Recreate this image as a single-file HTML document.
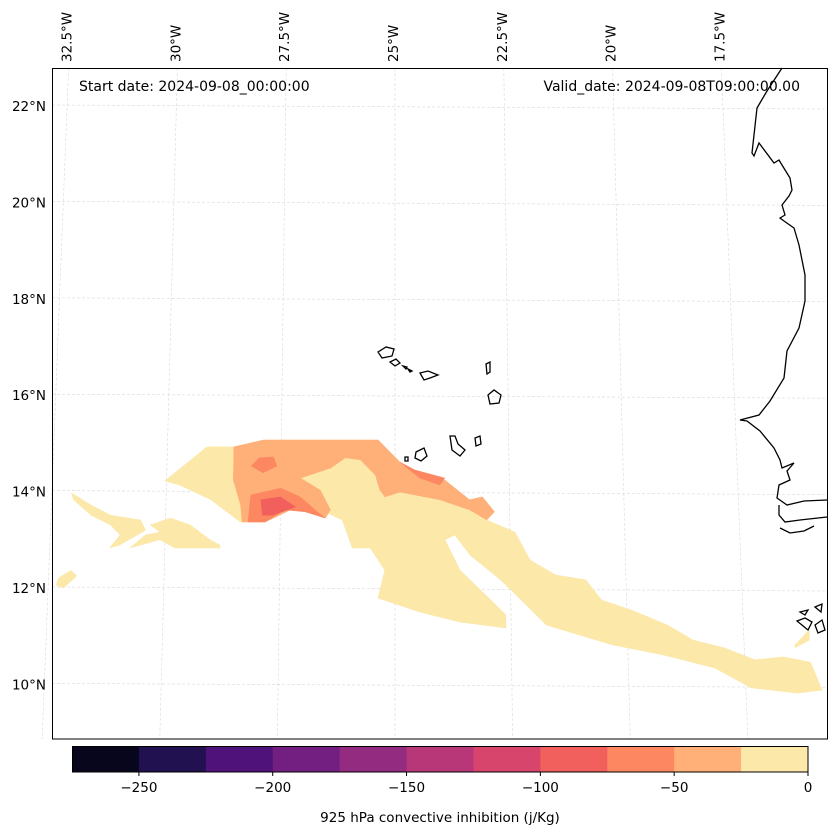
<!DOCTYPE html>
<html><head><meta charset="utf-8"><style>
body{margin:0;background:#fff;}
svg{display:block;font-family:"DejaVu Sans","Liberation Sans",sans-serif;}
</style></head><body>
<svg id="fig" width="837" height="836" viewBox="0 0 837 836">
<g id="grid"></g>
<g id="fills"></g>
<g id="coast"></g>
<rect x="52.5" y="68.5" width="775" height="670.5" fill="none" stroke="#000" stroke-width="1"/>
<text x="79" y="91" font-size="14">Start date: 2024-09-08_00:00:00</text>
<text x="800" y="91" font-size="14" text-anchor="end">Valid_date: 2024-09-08T09:00:00.00</text>
<g id="lonlabels"></g>
<g id="latlabels"></g>
<g id="cbar"></g>
<text x="440" y="822" font-size="13.5" text-anchor="middle">925 hPa convective inhibition (j/Kg)</text>
</svg>
<script>
const NS="http://www.w3.org/2000/svg";
const lonTicks=[-32.5,-30,-27.5,-25,-22.5,-20,-17.5];
const lonTickLabels=["32.5°W","30°W","27.5°W","25°W","22.5°W","20°W","17.5°W"];
const latTicks=[22,20,18,16,14,12,10];
const latTickLabels=["22°N","20°N","18°N","16°N","14°N","12°N","10°N"];
const levels=[-275,-250,-225,-200,-175,-150,-125,-100,-75,-50,-25,0];
const levelColors=["#07061c","#221150","#4f127b","#721f81","#932b80","#b73779","#d8456c","#f1605d","#fc8761","#feb078","#fce8a9"];
const cbarTicks=[-250,-200,-150,-100,-50,0];
const cbarTickLabels=["\u2212250","\u2212200","\u2212150","\u2212100","\u221250","0"];
const polyMain=[[-30.04,14.22],[-29.13,14.93],[-28.48,14.93],[-27.89,15.07],[-25.37,15.07],[-24.89,14.61],[-24.24,14.28],[-23.91,14.24],[-23.37,13.83],[-23.09,13.89],[-22.83,13.58],[-23.00,13.41],[-22.39,13.16],[-22.07,12.58],[-21.52,12.27],[-20.87,12.17],[-20.54,11.75],[-19.89,11.54],[-19.13,11.23],[-18.59,10.92],[-17.93,10.76],[-17.28,10.51],[-16.67,10.57],[-16.09,10.46],[-15.87,9.88],[-16.41,9.82],[-17.39,9.93],[-18.15,10.34],[-19.24,10.61],[-20.33,10.82],[-21.74,11.23],[-22.17,11.65],[-22.72,12.17],[-23.37,12.68],[-23.70,13.10],[-23.91,13.00],[-23.59,12.37],[-22.93,11.75],[-22.61,11.44],[-22.61,11.17],[-23.59,11.29],[-24.46,11.50],[-25.37,11.79],[-25.22,12.37],[-25.54,12.83],[-25.93,12.83],[-26.15,13.41],[-26.85,13.72],[-27.28,13.62],[-27.83,13.37],[-28.37,13.37],[-29.02,13.83],[-29.72,14.14]];
const polyWest1=[[-32.07,13.97],[-31.63,13.72],[-31.20,13.51],[-30.54,13.41],[-30.43,13.20],[-30.98,12.89],[-31.20,12.83],[-30.98,13.10],[-31.20,13.31],[-31.63,13.51],[-32.02,13.83]];
const polyWest2=[[-30.33,13.31],[-29.89,13.45],[-29.46,13.31],[-29.02,13.00],[-28.80,12.89],[-28.80,12.83],[-29.78,12.83],[-30.11,13.00],[-30.76,12.83],[-30.43,13.10],[-30.11,13.16]];
const polyWest3=[[-32.28,12.21],[-32.02,12.37],[-31.89,12.25],[-32.17,12.00],[-32.33,12.06]];
const polyCoast=[[-16.41,10.82],[-16.09,11.13],[-16.09,10.92],[-16.41,10.76]];
const polyOrange=[[-28.54,14.93],[-27.89,15.07],[-25.37,15.07],[-24.89,14.61],[-24.24,14.28],[-23.91,14.24],[-23.37,13.83],[-23.09,13.89],[-22.83,13.58],[-23.00,13.41],[-23.37,13.62],[-24.02,13.83],[-24.89,13.99],[-25.22,13.89],[-25.33,14.03],[-25.43,14.34],[-25.76,14.66],[-26.09,14.70],[-26.41,14.49],[-27.07,14.28],[-26.63,14.03],[-26.41,13.62],[-26.52,13.45],[-26.85,13.72],[-27.28,13.62],[-27.83,13.37],[-28.33,13.37],[-28.37,13.72],[-28.54,14.24]];
const polyDark1=[[-28.15,14.53],[-27.98,14.70],[-27.67,14.72],[-27.59,14.53],[-27.89,14.39]];
const polyDark2=[[-28.15,13.93],[-27.50,14.07],[-27.07,13.89],[-26.74,13.62],[-26.52,13.45],[-26.96,13.58],[-27.39,13.62],[-27.83,13.37],[-28.20,13.37]];
const polyDark3=[[-24.89,14.61],[-24.57,14.45],[-23.91,14.28],[-24.02,14.14],[-24.46,14.28]];
const polyRed=[[-27.93,13.83],[-27.50,13.89],[-27.17,13.68],[-27.67,13.51],[-27.89,13.51]];
const shapes=[[polyMain,10],[polyWest1,10],[polyWest2,10],[polyWest3,10],[polyCoast,10],[polyOrange,9],[polyDark1,8],[polyDark2,8],[polyDark3,8],[polyRed,7]];

function proj(lon,lat){const k=46*(1+(13-lat)*0.0055);return [395+(lon+25)*k,106+(22-lat)*48.2];}
function el(tag,attrs,parent){const e=document.createElementNS(NS,tag);for(const a in attrs)e.setAttribute(a,attrs[a]);parent.appendChild(e);return e;}

const grid=document.getElementById('grid');
lonTicks.forEach((lon,i)=>{
  const a=proj(lon,22.8),b=proj(lon,8.87);
  const l=el('line',{x1:a[0],y1:68,x2:b[0],y2:739,stroke:'#d8d8d8','stroke-width':0.6,'stroke-dasharray':'3,2'},grid);
  
  
  const t=el('text',{x:0,y:0,'font-size':13.5,'text-anchor':'start',transform:`translate(${a[0]+3},62) rotate(-90)`},document.getElementById('lonlabels'));
  t.textContent=lonTickLabels[i];
  
  
});
latTicks.forEach((lat,i)=>{
  const y=proj(-25,lat)[1];
  const l=el('line',{x1:52,y1:y-1,x2:827,y2:y+3,stroke:'#d8d8d8','stroke-width':0.6,'stroke-dasharray':'3,2'},grid);
  
  
  const t=el('text',{x:46,y:y+5,'font-size':13.5,'text-anchor':'end'},document.getElementById('latlabels'));
  t.textContent=latTickLabels[i];
  
  
});

const fills=document.getElementById('fills');
shapes.forEach(([pts,ci])=>{
  const d=pts.map((p,j)=>{const q=proj(p[0],p[1]);return (j?'L':'M')+q[0].toFixed(1)+','+q[1].toFixed(1);}).join('')+'Z';
  const p=el('path',{d:d,fill:levelColors[ci],stroke:levelColors[ci],'stroke-width':0.5},fills);
  
  
});

const coast=document.getElementById('coast');
const africa="M782,68 L767,91 L757,108 L752,153 L754,156 L759,143 L774,163 L779,160 L782,165 L790,178 L792,190 L789,196 L782,205 L785,215 L780,218 L784,221 L794,228 L799,245 L805,275 L805,301 L799,328 L787,351 L784,378 L770,401 L759,415 L740,420 L747,421 L760,431 L774,448 L780,460 L782,468 L794,463 L787,471 L790,480 L779,485 L777,498 L787,505 L804,501 L827,500 M779,505 L779,515 L785,522 L800,520 L827,517 M780,528 L790,533 L804,531 L814,526 M800,612 L808,610 L805,615 Z M815,607 L822,604 L821,612 Z M797,621 L805,618 L812,622 L808,630 Z M815,625 L822,620 L825,630 L818,633 Z";
let c=el('path',{d:africa,fill:'none',stroke:'#000','stroke-width':1.3},coast);


const isl="M378,352 L386,347 L394,349 L392,356 L382,358 Z M390,362 L396,359 L400,363 L395,366 Z M403,366 L407,367 L406,369 Z M408,369 L412,371 L410,372 Z M420,373 L428,371 L438,375 L430,378 L424,380 Z M486,364 L490,362 L490,372 L487,374 Z M488,395 L494,390 L501,395 L499,403 L490,404 Z M416,452 L424,448 L427,456 L421,461 L415,458 Z M450,436 L455,436 L458,444 L465,450 L460,456 L452,450 Z M475,438 L480,436 L481,444 L476,446 Z M405,457 L408,457 L408,461 L405,461 Z";
c=el('path',{d:isl,fill:'none',stroke:'#000','stroke-width':1.3},coast);



const cbar=document.getElementById('cbar');
const cx=v=>72+(v-levels[0])/(levels[levels.length-1]-levels[0])*736;
for(let i=0;i<levelColors.length;i++){
  const r=el('rect',{x:cx(levels[i]),y:746,width:cx(levels[i+1])-cx(levels[i])+0.5,height:26,fill:levelColors[i]},cbar);
  
  
}
el('rect',{x:72.5,y:746.5,width:735.5,height:25.5,fill:'none',stroke:'#000','stroke-width':1},cbar);
cbarTicks.forEach((v,i)=>{
  const x=cx(v);
  el('line',{x1:x,y1:772,x2:x,y2:776,stroke:'#000','stroke-width':1},cbar);
  const t=el('text',{x:x,y:792,'font-size':13.5,'text-anchor':'middle'},cbar);
  t.textContent=cbarTickLabels[i];
  
  
});
</script>
</body></html>
